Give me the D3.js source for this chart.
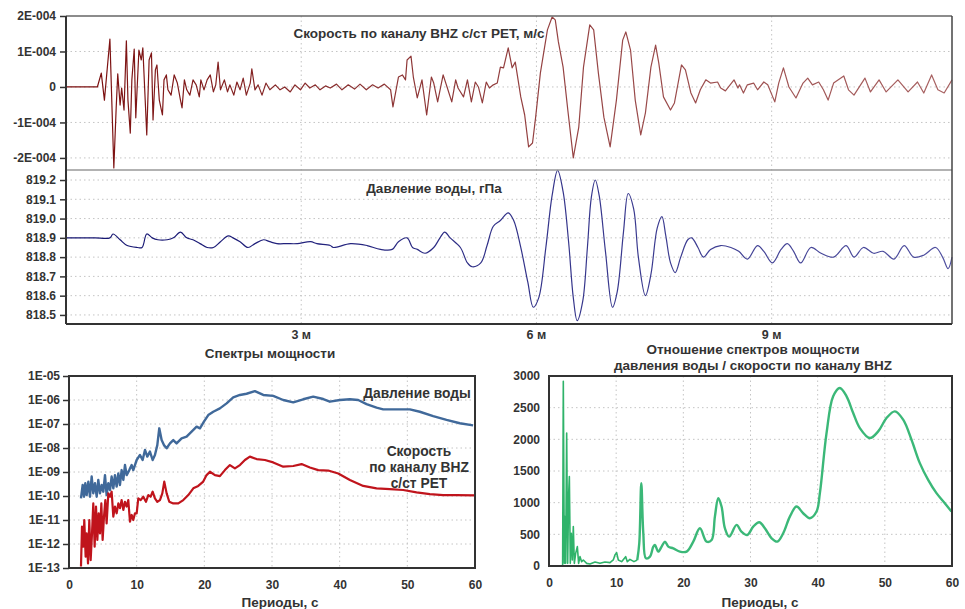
<!DOCTYPE html>
<html>
<head>
<meta charset="utf-8">
<script src="https://cdn.jsdelivr.net/npm/d3@7"></script>
<style>
  body { margin: 0; background: #fff; }
  svg { font-family: "Liberation Sans", Arial, sans-serif; font-weight: bold; }
</style>
</head>
<body>
<div id="chart"></div>
<script>
// ---- data ----
// time in minutes, velocity in units of 1E-004 m/s
const VEL_UNIT = 1e-4;
const velocityBHZ = [
  [0,0],[0.40,0],[0.45,0.39],[0.49,-0.37],[0.56,1.35],[0.61,-2.28],[0.64,-0.59],[0.66,0.37],
  [0.69,-0.51],[0.71,-0.03],[0.74,-0.65],[0.77,1.30],[0.79,-0.37],[0.82,-1.30],[0.84,0.20],
  [0.87,1.07],[0.89,-0.87],[0.93,1.04],[0.96,0.76],[0.98,1.10],[1.01,-0.37],[1.03,-1.35],
  [1.06,0.76],[1.09,0.96],[1.11,-0.93],[1.14,0.48],[1.16,0.62],[1.19,-0.37],[1.23,-0.79],
  [1.25,0.20],[1.28,0.34],[1.30,-0.08],[1.34,-0.23],[1.38,0.34],[1.42,0.11],[1.46,-0.37],
  [1.48,-0.59],[1.51,0.20],[1.54,-0.08],[1.58,-0.23],[1.62,0.20],[1.66,0.06],[1.70,-0.28],
  [1.72,0.20],[1.76,-0.08],[1.80,0.20],[1.84,0.34],[1.88,-0.14],[1.91,0.06],[1.94,0.70],
  [1.97,-0.08],[2.02,0.20],[2.06,-0.14],[2.09,0.06],[2.14,-0.23],[2.18,0.14],[2.22,-0.08],
  [2.26,0.25],[2.30,-0.23],[2.35,0.11],[2.37,0.51],[2.41,-0.08],[2.45,0.06],[2.50,-0.23],
  [2.55,0.11],[2.60,-0.08],[2.67,0.06],[2.73,-0.08],[2.79,0],[2.86,-0.14],[2.92,0.06],
  [2.99,-0.08],[3.05,0.11],[3.11,-0.03],[3.18,0.06],[3.24,-0.08],[3.31,0.03],[3.37,-0.03],
  [3.45,0.08],[3.52,-0.08],[3.60,0.06],[3.68,-0.06],[3.75,0.08],[3.83,-0.08],[3.91,0.06],
  [3.98,-0.03],[4.06,0.08],[4.14,-0.08],[4.17,-0.56],[4.24,0.28],[4.29,0.34],[4.33,0.20],
  [4.35,0.76],[4.40,0.87],[4.43,0.28],[4.48,-0.31],[4.54,0.20],[4.60,-0.79],[4.66,0.28],
  [4.69,0.11],[4.74,-0.42],[4.81,0.34],[4.86,0],[4.92,-0.42],[4.97,0.20],[5.00,-0.03],
  [5.07,-0.28],[5.12,0.20],[5.17,-0.42],[5.22,0.14],[5.26,0],[5.31,-0.45],[5.36,0.14],
  [5.40,-0.03],[5.45,0.06],[5.50,0.11],[5.54,0.56],[5.58,0.54],[5.64,1.10],[5.69,0.54],
  [5.73,0.70],[5.80,-0.28],[5.85,-0.79],[5.90,-1.69],[5.95,-1.58],[5.99,-0.85],[6.05,0.39],
  [6.14,1.61],[6.20,1.97],[6.24,1.89],[6.28,1.27],[6.34,0.56],[6.40,-0.65],[6.47,-2.00],
  [6.54,-1.13],[6.60,0.56],[6.68,1.75],[6.73,1.61],[6.79,0.39],[6.86,-0.85],[6.94,-1.69],
  [7.02,-0.37],[7.10,1.32],[7.14,1.55],[7.20,1.04],[7.26,-0.37],[7.33,-1.35],[7.39,-0.73],
  [7.46,0.56],[7.52,1.18],[7.56,0.68],[7.62,-0.28],[7.71,-0.65],[7.76,-0.45],[7.85,0.62],
  [7.90,0.48],[7.97,-0.17],[8.03,-0.45],[8.09,-0.08],[8.16,0.20],[8.22,0.11],[8.31,0.14],
  [8.35,-0.03],[8.41,-0.11],[8.52,0.20],[8.57,-0.03],[8.59,0.06],[8.64,-0.17],[8.69,0.06],
  [8.77,0.11],[8.82,-0.08],[8.90,0.14],[8.95,0.06],[9.04,-0.42],[9.09,0.11],[9.15,0.54],
  [9.22,0],[9.31,-0.31],[9.40,0.11],[9.46,0.25],[9.52,0.06],[9.60,0.14],[9.66,-0.08],
  [9.72,-0.37],[9.79,0.11],[9.92,0.31],[9.98,-0.08],[10.05,-0.23],[10.19,0.25],[10.26,-0.14],
  [10.37,0.20],[10.46,-0.14],[10.61,0.20],[10.74,-0.14],[10.86,0.14],[10.94,-0.17],
  [11.04,0.34],[11.12,-0.08],[11.20,-0.17],[11.30,0.20]
];

// time in minutes, water pressure in hPa
const waterPressure = [
  [0,818.90],[0.18,818.90],[0.37,818.90],[0.56,818.90],[0.60,818.92],[0.69,818.89],[0.78,818.86],
  [0.91,818.85],[0.97,818.85],[1.03,818.92],[1.10,818.90],[1.17,818.89],[1.29,818.89],
  [1.37,818.90],[1.46,818.93],[1.54,818.90],[1.62,818.89],[1.71,818.87],[1.80,818.85],
  [1.88,818.85],[1.97,818.88],[2.07,818.91],[2.13,818.90],[2.22,818.88],[2.32,818.85],
  [2.41,818.87],[2.52,818.89],[2.60,818.88],[2.69,818.87],[2.82,818.87],[2.95,818.87],
  [3.12,818.88],[3.20,818.87],[3.37,818.86],[3.41,818.85],[3.63,818.87],[3.84,818.86],
  [4.01,818.84],[4.16,818.84],[4.24,818.88],[4.35,818.90],[4.42,818.85],[4.48,818.84],
  [4.58,818.82],[4.69,818.85],[4.77,818.90],[4.83,818.93],[4.90,818.90],[5.03,818.85],
  [5.12,818.77],[5.18,818.75],[5.29,818.77],[5.37,818.86],[5.45,818.96],[5.54,818.99],
  [5.64,819.03],[5.71,818.99],[5.80,818.85],[5.89,818.67],[5.96,818.54],[6.03,818.59],
  [6.12,818.85],[6.20,819.12],[6.27,819.25],[6.34,819.14],[6.41,818.88],[6.47,818.59],
  [6.52,818.47],[6.59,818.57],[6.65,818.85],[6.70,819.11],[6.75,819.20],[6.80,819.12],
  [6.88,818.83],[6.97,818.54],[7.03,818.62],[7.11,818.93],[7.17,819.13],[7.24,819.05],
  [7.30,818.80],[7.39,818.60],[7.46,818.71],[7.54,818.95],[7.60,819.01],[7.65,818.91],
  [7.71,818.77],[7.77,818.72],[7.84,818.80],[7.93,818.89],[7.98,818.90],[8.06,818.85],
  [8.13,818.80],[8.22,818.84],[8.35,818.86],[8.48,818.85],[8.58,818.83],[8.69,818.79],
  [8.82,818.86],[8.90,818.83],[9.01,818.77],[9.12,818.84],[9.20,818.87],[9.28,818.83],
  [9.37,818.77],[9.50,818.85],[9.63,818.82],[9.79,818.80],[9.95,818.86],[10.05,818.80],
  [10.17,818.85],[10.30,818.82],[10.42,818.83],[10.56,818.79],[10.69,818.86],[10.81,818.80],
  [10.94,818.81],[11.09,818.85],[11.18,818.80],[11.25,818.74],[11.30,818.80]
];

// power spectra: period (s), log10 of power
const pressurePowLog = [
  [1.77,-10.10],[2.02,-9.54],[2.22,-10.03],[2.41,-9.47],[2.61,-9.96],[2.86,-9.40],[3.10,-10.03],
  [3.35,-9.19],[3.59,-9.89],[3.84,-9.47],[4.09,-10.03],[4.33,-9.33],[4.58,-9.89],[4.83,-9.54],
  [5.07,-9.82],[5.32,-9.13],[5.56,-9.96],[5.81,-9.47],[6.06,-9.75],[6.30,-9.19],[6.55,-9.68],
  [6.79,-9.13],[7.04,-9.61],[7.29,-9.06],[7.53,-9.54],[7.78,-8.92],[8.03,-9.33],[8.27,-8.71],
  [8.52,-9.13],[8.91,-8.92],[9.26,-8.71],[9.50,-8.92],[10.00,-8.50],[10.49,-8.29],[10.88,-8.50],
  [11.23,-8.08],[11.57,-8.36],[11.96,-8.15],[12.36,-8.50],[12.70,-8.29],[13.05,-7.88],
  [13.34,-7.18],[13.69,-7.67],[14.03,-7.88],[14.43,-8.01],[14.92,-7.81],[15.41,-7.67],
  [15.90,-7.81],[16.64,-7.60],[17.38,-7.53],[18.12,-7.32],[18.86,-7.11],[19.35,-7.18],
  [19.94,-6.90],[20.58,-6.63],[21.32,-6.49],[22.30,-6.35],[23.29,-6.14],[24.27,-5.89],
  [25.26,-5.79],[26.24,-5.74],[27.47,-5.63],[28.71,-5.79],[30.18,-5.83],[31.66,-6.00],
  [33.14,-6.10],[34.61,-5.97],[36.09,-5.86],[37.57,-5.96],[38.55,-6.07],[40.03,-6.00],
  [41.51,-5.97],[42.74,-6.00],[43.97,-6.17],[45.45,-6.32],[46.43,-6.39],[48.40,-6.39],
  [50.37,-6.39],[51.85,-6.49],[53.82,-6.67],[55.79,-6.83],[57.76,-6.97],[59.72,-7.06]
];

const velocityPowLog = [
  [1.77,-12.94],[1.92,-11.28],[2.12,-12.11],[2.26,-11.00],[2.46,-12.53],[2.61,-11.56],
  [2.81,-12.81],[3.00,-11.00],[3.20,-12.67],[3.40,-11.56],[3.59,-10.31],[3.79,-12.11],
  [3.99,-10.44],[4.19,-11.83],[4.38,-10.72],[4.58,-11.56],[4.78,-10.31],[4.97,-11.83],
  [5.17,-10.86],[5.37,-10.17],[5.56,-11.14],[5.81,-9.89],[6.06,-10.03],[6.30,-9.82],
  [6.55,-10.86],[6.79,-10.44],[7.04,-10.72],[7.29,-10.31],[7.53,-10.51],[7.78,-10.17],
  [8.03,-10.58],[8.27,-10.24],[8.52,-10.44],[8.76,-10.17],[9.01,-11.07],[9.26,-10.79],
  [9.50,-11.00],[9.75,-10.72],[10.00,-10.72],[10.24,-10.10],[10.59,-10.17],[10.98,-10.03],
  [11.37,-10.24],[11.72,-9.96],[12.06,-10.03],[12.36,-9.82],[12.70,-10.10],[13.05,-10.24],
  [13.44,-10.17],[13.79,-9.89],[14.08,-9.40],[14.43,-9.89],[14.82,-10.24],[15.41,-10.31],
  [16.15,-10.31],[16.89,-10.17],[17.63,-9.96],[18.37,-9.68],[19.10,-9.58],[19.84,-9.40],
  [20.33,-9.13],[20.83,-8.99],[21.57,-9.13],[22.30,-9.17],[23.04,-8.92],[23.78,-8.71],
  [24.52,-8.85],[25.26,-8.71],[26.00,-8.50],[26.73,-8.36],[27.72,-8.46],[28.95,-8.50],
  [30.18,-8.60],[31.66,-8.78],[33.14,-8.75],[34.37,-8.67],[35.60,-8.81],[36.83,-8.92],
  [38.31,-8.94],[39.79,-9.06],[41.51,-9.33],[43.48,-9.58],[45.45,-9.68],[47.42,-9.71],
  [49.39,-9.75],[51.36,-9.85],[53.33,-9.92],[55.29,-9.96],[57.26,-9.96],[59.98,-9.97]
];

// ratio of power spectra: period (s), ratio
const spectraRatio = [
  [2.03,16],[2.13,2916],[2.28,42],[2.38,780],[2.48,42],[2.63,2099],[2.78,42],[2.93,1150],
  [3.03,1413],[3.17,42],[3.32,517],[3.47,95],[3.62,622],[3.77,42],[3.97,200],[4.22,306],
  [4.41,42],[4.61,148],[4.86,69],[5.11,95],[5.61,42],[6.10,32],[6.85,63],[7.59,42],[8.33,63],
  [9.08,53],[9.57,95],[9.82,174],[10.07,211],[10.32,95],[10.81,69],[11.41,148],[11.66,69],
  [12.05,105],[12.65,69],[13.14,95],[13.44,359],[13.74,1308],[14.04,517],[14.43,121],
  [15.03,148],[15.53,306],[15.77,332],[16.27,227],[16.77,306],[17.26,385],[17.76,306],
  [18.50,279],[19.49,227],[20.49,227],[21.48,385],[22.47,596],[23.46,385],[24.21,411],
  [24.70,780],[25.20,1070],[25.69,939],[26.19,596],[26.83,464],[27.93,649],[28.65,543],
  [29.51,490],[30.41,622],[31.30,691],[32.14,596],[33.14,438],[33.99,385],[34.87,517],
  [35.86,780],[36.85,939],[37.84,833],[38.84,754],[39.83,860],[40.33,1150],[41.32,2099],
  [42.31,2679],[43.30,2811],[44.30,2679],[45.29,2415],[46.28,2178],[47.77,2020],[49.01,2125],
  [50.25,2336],[51.49,2441],[52.73,2310],[53.97,1993],[55.21,1624],[56.45,1360],[57.69,1150],
  [58.93,991],[59.92,860]
];

const timeTicks = [3, 6, 9];
const timeTickLabels = ["3 м", "6 м", "9 м"];
const velTicks = [2, 1, 0, -1, -2];
const velTickLabels = ["2E-004", "1E-004", "0", "-1E-004", "-2E-004"];
const presTicks = [819.2, 819.1, 819.0, 818.9, 818.8, 818.7, 818.6, 818.5];
const powTickExp = [-5, -6, -7, -8, -9, -10, -11, -12, -13];
const periodTicks = [0, 10, 20, 30, 40, 50, 60];
const ratioTicks = [0, 500, 1000, 1500, 2000, 2500, 3000];

// ---- layout ----
const W = 965, H = 609;
const GRID = "#c4c4c4";
const TXT = "#333";
const TITLE_SIZE = 13.5;

const svg = d3.select("#chart").append("svg")
  .attr("width", W)
  .attr("height", H);

// trace colours fade slightly along time, like the original drawing
const defs = svg.append("defs");
function fadeGradient(id, c0, c1, c2) {
  const g = defs.append("linearGradient")
    .attr("id", id)
    .attr("gradientUnits", "userSpaceOnUse")
    .attr("x1", 66).attr("x2", 952).attr("y1", 0).attr("y2", 0);
  g.append("stop").attr("offset", "0%").attr("stop-color", c0);
  g.append("stop").attr("offset", "30%").attr("stop-color", c1);
  g.append("stop").attr("offset", "100%").attr("stop-color", c2);
}
fadeGradient("velGrad", "#7a0c0c", "#8a3030", "#a86262");
fadeGradient("presGrad", "#141470", "#24247e", "#5050a0");

function dotGridH(g, scale, ticks, x0, x1) {
  g.selectAll(null).data(ticks).enter().append("line")
    .attr("x1", x0).attr("x2", x1)
    .attr("y1", d => scale(d)).attr("y2", d => scale(d))
    .attr("stroke", GRID).attr("stroke-width", 1)
    .attr("stroke-dasharray", "1.5,3");
}
function dotGridV(g, scale, ticks, y0, y1) {
  g.selectAll(null).data(ticks).enter().append("line")
    .attr("y1", y0).attr("y2", y1)
    .attr("x1", d => scale(d)).attr("x2", d => scale(d))
    .attr("stroke", GRID).attr("stroke-width", 1)
    .attr("stroke-dasharray", "1.5,3");
}
function styleAxis(sel) {
  sel.select(".domain").remove();
  sel.selectAll(".tick line").attr("stroke", "#333").attr("stroke-width", 1.5);
  sel.selectAll(".tick text")
    .attr("fill", TXT)
    .style("font-size", "12px")
    .style("font-weight", "bold")
    .style("font-family", "'Liberation Sans', Arial, sans-serif");
}
function label(g, x, y, text, size) {
  return g.append("text")
    .attr("x", x).attr("y", y)
    .attr("text-anchor", "middle")
    .attr("fill", TXT)
    .attr("font-size", size || TITLE_SIZE)
    .text(text);
}

// ===== top: time series =====
const tp = { left: 66, right: 952, top: 16, mid: 170, bottom: 324 };

const xTime = d3.scaleLinear().domain([0, 11.3]).range([tp.left, tp.right]);
const yVel = d3.scaleLinear().domain([-2.34 * VEL_UNIT, 2 * VEL_UNIT]).range([tp.mid, tp.top]);
const yPres = d3.scaleLinear().domain([818.453, 819.252]).range([tp.bottom, tp.mid]);

const gTop = svg.append("g");

dotGridH(gTop, v => yVel(v * VEL_UNIT), velTicks.filter(d => d !== 2), tp.left, tp.right);
dotGridH(gTop, yPres, presTicks, tp.left, tp.right);
dotGridV(gTop, xTime, timeTicks, tp.top, tp.bottom);

gTop.append("g")
  .attr("transform", `translate(${tp.left},0)`)
  .call(d3.axisLeft(yVel)
    .tickValues(velTicks.map(d => d * VEL_UNIT))
    .tickSize(6).tickPadding(4)
    .tickFormat((d, i) => velTickLabels[i]))
  .call(styleAxis);

gTop.append("g")
  .attr("transform", `translate(${tp.left},0)`)
  .call(d3.axisLeft(yPres)
    .tickValues(presTicks)
    .tickSize(6).tickPadding(4)
    .tickFormat(d3.format(".1f")))
  .call(styleAxis);

// time labels (no tick marks)
gTop.selectAll("text.tlab").data(timeTicks).enter().append("text")
  .attr("class", "tlab")
  .attr("x", d => xTime(d))
  .attr("y", 339)
  .attr("text-anchor", "middle")
  .attr("fill", TXT)
  .attr("font-size", 12.5)
  .text((d, i) => timeTickLabels[i]);

const lineVel = d3.line()
  .x(d => xTime(d[0]))
  .y(d => yVel(d[1] * VEL_UNIT));

const linePres = d3.line()
  .curve(d3.curveCatmullRom.alpha(0.5))
  .x(d => xTime(d[0]))
  .y(d => yPres(d[1]));

gTop.append("path")
  .datum(velocityBHZ)
  .attr("fill", "none")
  .attr("stroke", "url(#velGrad)")
  .attr("stroke-width", 1.2)
  .attr("stroke-linejoin", "round")
  .attr("d", lineVel);

gTop.append("path")
  .datum(waterPressure)
  .attr("fill", "none")
  .attr("stroke", "url(#presGrad)")
  .attr("stroke-width", 1.2)
  .attr("d", linePres);

// frame
gTop.append("line")
  .attr("x1", tp.left).attr("x2", tp.right)
  .attr("y1", tp.top).attr("y2", tp.top)
  .attr("stroke", "#666").attr("stroke-width", 1.5);
gTop.append("line")
  .attr("x1", tp.left).attr("x2", tp.right)
  .attr("y1", tp.mid).attr("y2", tp.mid)
  .attr("stroke", "#999").attr("stroke-width", 1.5);
gTop.append("line")
  .attr("x1", tp.right).attr("x2", tp.right)
  .attr("y1", tp.top).attr("y2", tp.bottom)
  .attr("stroke", "#444").attr("stroke-width", 1.5);
gTop.append("line")
  .attr("x1", tp.left).attr("x2", tp.right)
  .attr("y1", tp.bottom).attr("y2", tp.bottom)
  .attr("stroke", "#333").attr("stroke-width", 2);
gTop.append("line")
  .attr("x1", tp.left).attr("x2", tp.left)
  .attr("y1", tp.top).attr("y2", tp.bottom)
  .attr("stroke", "#333").attr("stroke-width", 2);

label(gTop, 419, 38, "Скорость по каналу BHZ с/ст PET, м/с");
label(gTop, 434, 193, "Давление воды, гПа");

// ===== bottom left: power spectra =====
const bl = { left: 69, right: 475, top: 376, bottom: 568 };
const xPerL = d3.scaleLinear().domain([0, 60]).range([bl.left, bl.right]);
const yPow = d3.scaleLog().domain([1e-13, 1e-5]).range([bl.bottom, bl.top]);

const gBL = svg.append("g");
dotGridH(gBL, yPow, powTickExp.map(e => Math.pow(10, e)), bl.left, bl.right);
dotGridV(gBL, xPerL, periodTicks, bl.top, bl.bottom);

gBL.append("g")
  .attr("transform", `translate(${bl.left},0)`)
  .call(d3.axisLeft(yPow)
    .tickValues(powTickExp.map(e => Math.pow(10, e)))
    .tickSize(6).tickPadding(3)
    .tickFormat((d, i) => "1E-" + String(-powTickExp[i]).padStart(2, "0")))
  .call(styleAxis);

gBL.append("g")
  .attr("transform", `translate(0,${bl.bottom})`)
  .call(d3.axisBottom(xPerL).tickValues(periodTicks).tickSize(0).tickPadding(12))
  .call(styleAxis);

const linePow = d3.line()
  .x(d => xPerL(d[0]))
  .y(d => yPow(Math.pow(10, d[1])));

gBL.append("path")
  .datum(pressurePowLog)
  .attr("fill", "none")
  .attr("stroke", "#40699a")
  .attr("stroke-width", 2.4)
  .attr("stroke-linejoin", "round")
  .attr("d", linePow);

gBL.append("path")
  .datum(velocityPowLog)
  .attr("fill", "none")
  .attr("stroke", "#c0141c")
  .attr("stroke-width", 2.2)
  .attr("stroke-linejoin", "round")
  .attr("d", linePow);

gBL.append("rect")
  .attr("x", bl.left).attr("y", bl.top)
  .attr("width", bl.right - bl.left).attr("height", bl.bottom - bl.top)
  .attr("fill", "none").attr("stroke", "#333").attr("stroke-width", 2);

label(gBL, 270, 358, "Спектры мощности");
label(gBL, 280, 607, "Периоды, с");
label(gBL, 417, 398, "Давление воды", 13.8);
[["Скорость", 456], ["по каналу BHZ", 472], ["с/ст PET", 488]].forEach(([t, y]) => {
  label(gBL, 419, y, t, 13.8);
});

// ===== bottom right: ratio =====
const br = { left: 549, right: 952, top: 376, bottom: 566 };
const xPerR = d3.scaleLinear().domain([0, 60]).range([br.left, br.right]);
const yRatio = d3.scaleLinear().domain([0, 3000]).range([br.bottom, br.top]);

const gBR = svg.append("g");
dotGridH(gBR, yRatio, ratioTicks, br.left, br.right);
dotGridV(gBR, xPerR, periodTicks, br.top, br.bottom);

gBR.append("g")
  .attr("transform", `translate(${br.left},0)`)
  .call(d3.axisLeft(yRatio).tickValues(ratioTicks).tickSize(0).tickPadding(9)
    .tickFormat(d3.format("d")))
  .call(styleAxis);

gBR.append("g")
  .attr("transform", `translate(0,${br.bottom})`)
  .call(d3.axisBottom(xPerR).tickValues(periodTicks).tickSize(0).tickPadding(12))
  .call(styleAxis);

const lineRatio = d3.line()
  .x(d => xPerR(d[0]))
  .y(d => yRatio(d[1]));

gBR.append("path")
  .datum(spectraRatio.filter(d => d[0] < 13.3))
  .attr("fill", "none")
  .attr("stroke", "#2fb36a")
  .attr("stroke-width", 1.6)
  .attr("stroke-linejoin", "round")
  .attr("d", lineRatio);

gBR.append("path")
  .datum(spectraRatio.filter(d => d[0] >= 13.1))
  .attr("fill", "none")
  .attr("stroke", "#3bb878")
  .attr("stroke-width", 2.4)
  .attr("d", lineRatio.curve(d3.curveCatmullRom.alpha(0.5)));

gBR.append("rect")
  .attr("x", br.left).attr("y", br.top)
  .attr("width", br.right - br.left).attr("height", br.bottom - br.top)
  .attr("fill", "none").attr("stroke", "#333").attr("stroke-width", 2);

label(gBR, 753, 354, "Отношение спектров мощности");
label(gBR, 753, 370, "давления воды / скорости по каналу BHZ");
label(gBR, 760, 607, "Периоды, с");
</script>
</body>
</html>
